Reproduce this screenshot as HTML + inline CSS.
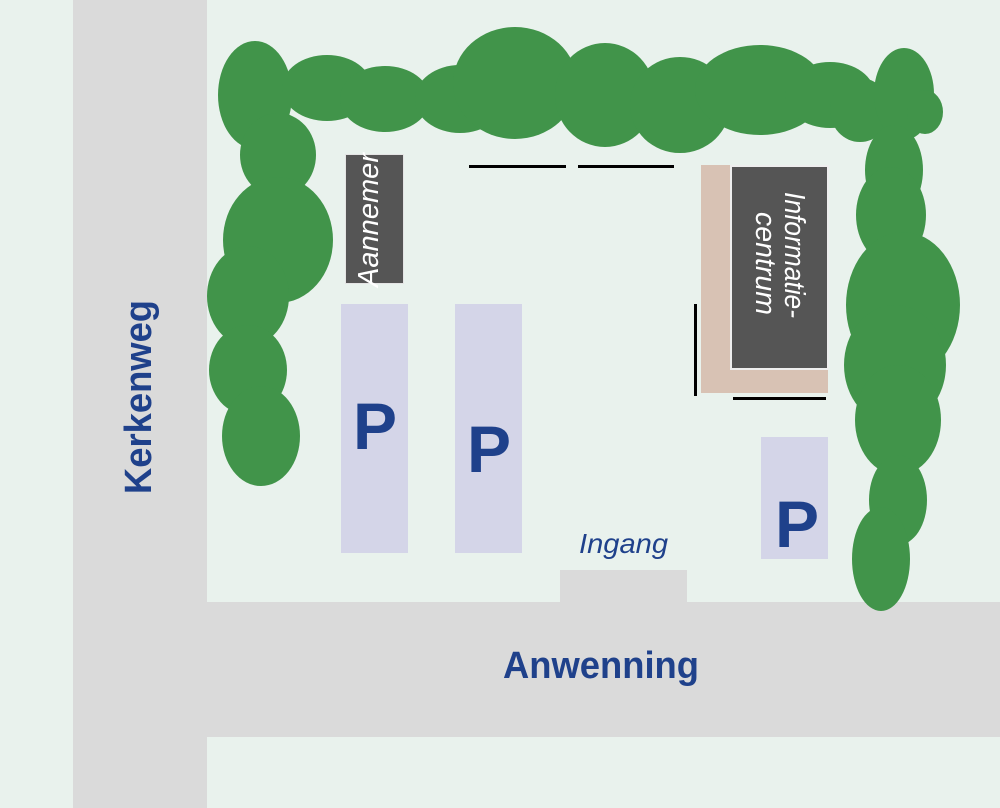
<!DOCTYPE html>
<html>
<head>
<meta charset="utf-8">
<style>
html,body{margin:0;padding:0;background:#e9f2ed;}
svg{display:block;}
</style>
</head>
<body>
<svg width="1000" height="808" viewBox="0 0 1000 808" xmlns="http://www.w3.org/2000/svg">
  <rect x="0" y="0" width="1000" height="808" fill="#e9f2ed"/>
  <!-- roads -->
  <rect x="73" y="0" width="134" height="808" fill="#dadada"/>
  <rect x="207" y="602" width="793" height="135" fill="#dadada"/>
  <rect x="560" y="570" width="127" height="33" fill="#dadada"/>

  <!-- bushes -->
  <g fill="#41944a">
    <!-- left column -->
    <ellipse cx="255" cy="95" rx="37" ry="54"/>
    <ellipse cx="278" cy="155" rx="38" ry="42"/>
    <ellipse cx="278" cy="240" rx="55" ry="63"/>
    <ellipse cx="248" cy="296" rx="41" ry="50"/>
    <ellipse cx="248" cy="370" rx="39" ry="45"/>
    <ellipse cx="261" cy="436" rx="39" ry="50"/>
    <!-- top row -->
    <ellipse cx="327" cy="88" rx="45" ry="33"/>
    <ellipse cx="385" cy="99" rx="45" ry="33"/>
    <ellipse cx="460" cy="99" rx="45" ry="34"/>
    <ellipse cx="515" cy="83" rx="62" ry="56"/>
    <ellipse cx="605" cy="95" rx="50" ry="52"/>
    <ellipse cx="680" cy="105" rx="50" ry="48"/>
    <ellipse cx="760" cy="90" rx="65" ry="45"/>
    <ellipse cx="830" cy="95" rx="45" ry="33"/>
    <ellipse cx="860" cy="110" rx="30" ry="32"/>
    <!-- right column -->
    <ellipse cx="904" cy="94" rx="30" ry="46"/>
    <ellipse cx="925" cy="112" rx="18" ry="22"/>
    <ellipse cx="894" cy="170" rx="29" ry="45"/>
    <ellipse cx="891" cy="215" rx="35" ry="48"/>
    <ellipse cx="903" cy="305" rx="57" ry="73"/>
    <ellipse cx="895" cy="365" rx="51" ry="60"/>
    <ellipse cx="898" cy="420" rx="43" ry="55"/>
    <ellipse cx="898" cy="500" rx="29" ry="45"/>
    <ellipse cx="881" cy="559" rx="29" ry="52"/>
  </g>

  <!-- parking -->
  <rect x="341" y="304" width="67" height="249" fill="#d4d5e8"/>
  <rect x="455" y="304" width="67" height="249" fill="#d4d5e8"/>
  <rect x="761" y="437" width="67" height="122" fill="#d4d5e8"/>
  <g font-family="Liberation Sans, sans-serif" font-weight="bold" font-size="66" fill="#1f418b" text-anchor="middle">
    <text x="375" y="449">P</text>
    <text x="489" y="472">P</text>
    <text x="797" y="547">P</text>
  </g>

  <!-- Aannemer -->
  <rect x="345.5" y="154.5" width="58" height="129" fill="#555555" stroke="#e4e4e4" stroke-width="1"/>
  <text transform="translate(378,287) rotate(-90)" font-family="Liberation Sans, sans-serif" font-style="italic" font-size="29" fill="#ffffff" textLength="134" lengthAdjust="spacingAndGlyphs">Aannemer</text>

  <!-- Informatiecentrum -->
  <rect x="701" y="165" width="127" height="228" fill="#d8c2b4"/>
  <rect x="731" y="166" width="97" height="203" fill="#555555" stroke="#eeeeee" stroke-width="2"/>
  <text transform="translate(785,192) rotate(90)" font-family="Liberation Sans, sans-serif" font-style="italic" font-size="29" fill="#ffffff" textLength="126" lengthAdjust="spacingAndGlyphs">Informatie-</text>
  <text transform="translate(756,212) rotate(90)" font-family="Liberation Sans, sans-serif" font-style="italic" font-size="29" fill="#ffffff" textLength="103" lengthAdjust="spacingAndGlyphs">centrum</text>

  <!-- black lines -->
  <g fill="#000">
    <rect x="469" y="165" width="97" height="3"/>
    <rect x="578" y="165" width="96" height="3"/>
    <rect x="694" y="304" width="3" height="92"/>
    <rect x="733" y="397" width="93" height="3"/>
  </g>

  <!-- labels -->
  <text x="579" y="553" font-family="Liberation Sans, sans-serif" font-style="italic" font-size="28" fill="#1f418b" textLength="89" lengthAdjust="spacingAndGlyphs">Ingang</text>
  <text x="503" y="678" font-family="Liberation Sans, sans-serif" font-weight="bold" font-size="38" fill="#1f418b" textLength="196" lengthAdjust="spacingAndGlyphs">Anwenning</text>
  <text transform="translate(151,494) rotate(-90)" font-family="Liberation Sans, sans-serif" font-weight="bold" font-size="38" fill="#1f418b" textLength="194" lengthAdjust="spacingAndGlyphs">Kerkenweg</text>
</svg>
</body>
</html>
